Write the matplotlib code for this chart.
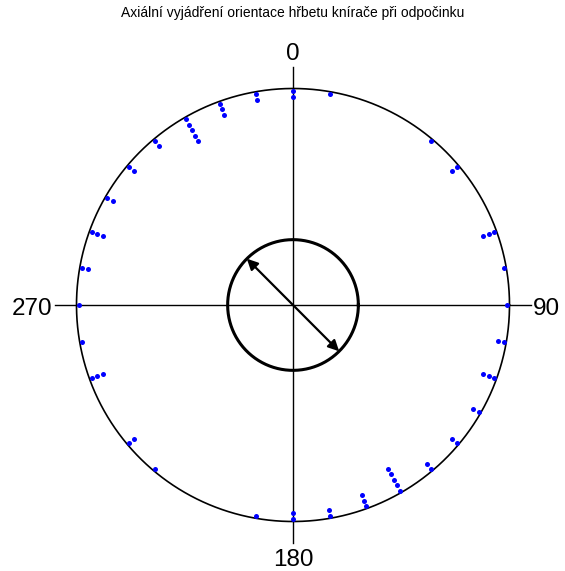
import numpy as np
import matplotlib.pyplot as plt

plt.rcParams['font.family'] = ['Liberation Sans', 'DejaVu Sans']

# axial orientations (deg, 0-180) and how many observations fell in each 10 deg bin
smer = [0, 10, 40, 50, 70, 80, 90, 100, 110, 120, 130, 140, 150, 160, 170]
pocet = [2, 1, 1, 2, 3, 1, 1, 2, 3, 2, 2, 2, 5, 3, 2]
popisky = ['0', '90', '180', '270']
nazev = 'Axiální vyjádření orientace hřbetu knírače při odpočinku'

fig = plt.figure(figsize=(5.65, 5.71), dpi=100)
ax = fig.add_axes([0, 0, 1, 1])
ax.set_xlim(-293 / 216.5, (565 - 293) / 216.5)
ax.set_ylim(-(571 - 305) / 216.5, 305 / 216.5)
ax.axis('off')

# outer unit circle and cross
t = np.linspace(0, 2 * np.pi, 400)
ax.plot(np.cos(t), np.sin(t), color='black', lw=1.2)
ax.plot([-1.1, 1.1], [0, 0], color='black', lw=1.0)
ax.plot([0, 0], [-1.1, 1.1], color='black', lw=1.0)

# stacked dots, each value drawn at theta and theta+180
r0, krok = 0.99, 0.029
for a, n in zip(smer, pocet):
    for k in range(n):
        r = r0 - k * krok
        for b in (a, a + 180):
            th = np.radians(b)
            ax.plot(r * np.sin(th), r * np.cos(th), 'o', color='blue',
                    ms=3.6, mec='none')

# mean axial direction (doubled angles) and resultant length
uhly = np.repeat(np.radians(smer) * 2, pocet)
C, S = np.cos(uhly).sum(), np.sin(uhly).sum()
R = np.hypot(C, S) / len(uhly)
mu = np.arctan2(S, C) / 2
ax.plot(R * np.cos(t), R * np.sin(t), color='black', lw=2.2)
ux, uy = R * np.sin(mu), R * np.cos(mu)
ax.annotate('', xy=(ux, uy), xytext=(-ux, -uy),
            arrowprops=dict(arrowstyle='<|-|>', color='black', lw=1.6,
                            mutation_scale=16, shrinkA=0, shrinkB=0))

fs = 17.5
ax.text(0, 1.132, popisky[0], ha='center', va='baseline', fontsize=fs)
ax.text(1.11, -0.046, popisky[1], ha='left', va='baseline', fontsize=fs)
ax.text(0, -1.205, popisky[2], ha='center', va='baseline', fontsize=fs)
ax.text(-1.11, -0.046, popisky[3], ha='right', va='baseline', fontsize=fs)

fig.text(293 / 565, 1 - 13 / 571, nazev, ha='center', va='center', fontsize=10)

fig.savefig('out.png', dpi=100)
